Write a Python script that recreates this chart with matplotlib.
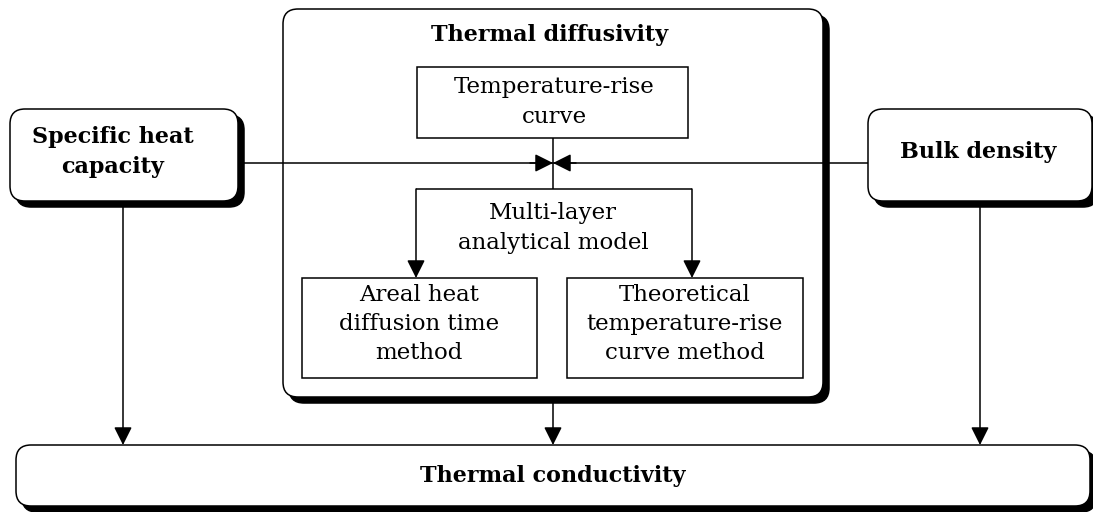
import matplotlib
matplotlib.use("Agg")
import matplotlib.pyplot as plt
from matplotlib.patches import FancyBboxPatch, Rectangle, FancyArrowPatch

W, H = 1093, 512
FONT = "DejaVu Serif"

# Labels
title_diffusivity = "Thermal diffusivity"
label_specific = "Specific heat\ncapacity"
label_bulk = "Bulk density"
label_conductivity = "Thermal conductivity"
label_curve = "Temperature-rise\ncurve"
label_model = "Multi-layer\nanalytical model"
label_areal = "Areal heat\ndiffusion time\nmethod"
label_theory = "Theoretical\ntemperature-rise\ncurve method"

# Box geometry in pixels: (x0, y0, x1, y1)
rounded_boxes = {
    "specific": (10, 109, 238, 201),
    "bulk": (868, 109, 1092, 201),
    "diffusivity": (283, 9, 823, 397),
    "conductivity": (16, 445, 1090, 506),
}
plain_boxes = {
    "curve": (417, 67, 688, 138),
    "areal": (302, 278, 537, 378),
    "theory": (567, 278, 803, 378),
}

fig = plt.figure(figsize=(W / 100, H / 100), dpi=100)
ax = fig.add_axes([0, 0, 1, 1])
ax.set_xlim(0, W)
ax.set_ylim(H, 0)
ax.axis("off")

LW = 1.1
SH = 6


def rbox(key, z=2):
    x0, y0, x1, y1 = rounded_boxes[key]
    r = 15
    sh = FancyBboxPatch((x0 + SH, y0 + SH), x1 - x0, y1 - y0,
                        boxstyle=f"round,pad=0,rounding_size={r}",
                        fc="black", ec="black", lw=LW, zorder=z)
    ax.add_patch(sh)
    bx = FancyBboxPatch((x0, y0), x1 - x0, y1 - y0,
                        boxstyle=f"round,pad=0,rounding_size={r}",
                        fc="white", ec="black", lw=LW, zorder=z + 0.1)
    ax.add_patch(bx)


def pbox(key, z=4):
    x0, y0, x1, y1 = plain_boxes[key]
    ax.add_patch(Rectangle((x0, y0), x1 - x0, y1 - y0, fc="white",
                           ec="black", lw=LW, zorder=z))


def line(xs, ys, z=3):
    ax.plot(xs, ys, color="black", lw=LW, zorder=z, solid_capstyle="butt")


def arrow(x0, y0, x1, y1, z=6):
    ax.add_patch(FancyArrowPatch((x0, y0), (x1, y1),
                                 arrowstyle="-|>,head_length=11,head_width=5.5",
                                 mutation_scale=1, color="black", lw=LW,
                                 shrinkA=0, shrinkB=0, zorder=z))


# Vertical arrows to conductivity (drawn beneath boxes)
arrow(123, 201, 123, 445, z=1)
arrow(980, 201, 980, 445, z=1)
arrow(553, 397, 553, 445, z=1)

rbox("diffusivity")
rbox("specific", z=2.5)
rbox("bulk", z=2.5)
rbox("conductivity")

# Horizontal line through the diffusivity box
line([238, 868], [163, 163], z=2.4)
arrow(530, 163, 553, 163, z=6)
arrow(576, 163, 553, 163, z=6)

pbox("curve")
pbox("areal")
pbox("theory")

line([553, 553], [138, 189], z=5)
line([416, 692], [189, 189], z=5)
arrow(416, 189, 416, 278)
arrow(692, 189, 692, 278)

BOLD = dict(family=FONT, fontweight="bold", fontsize=16, ha="center",
            va="center", linespacing=1.45, zorder=10)
NORM = dict(family=FONT, fontsize=16.5, ha="center", va="center",
            linespacing=1.42, zorder=10)

ax.text(550, 35, title_diffusivity, **BOLD)
ax.text(113, 152, label_specific, **BOLD)
ax.text(978, 152, label_bulk, **BOLD)
ax.text(553, 476, label_conductivity, **BOLD)
ax.text(554, 102, label_curve, **NORM)
ax.text(553, 228, label_model, **NORM)
ax.text(419, 324, label_areal, **NORM)
ax.text(685, 324, label_theory, **NORM)

fig.savefig("out.png", dpi=100)
